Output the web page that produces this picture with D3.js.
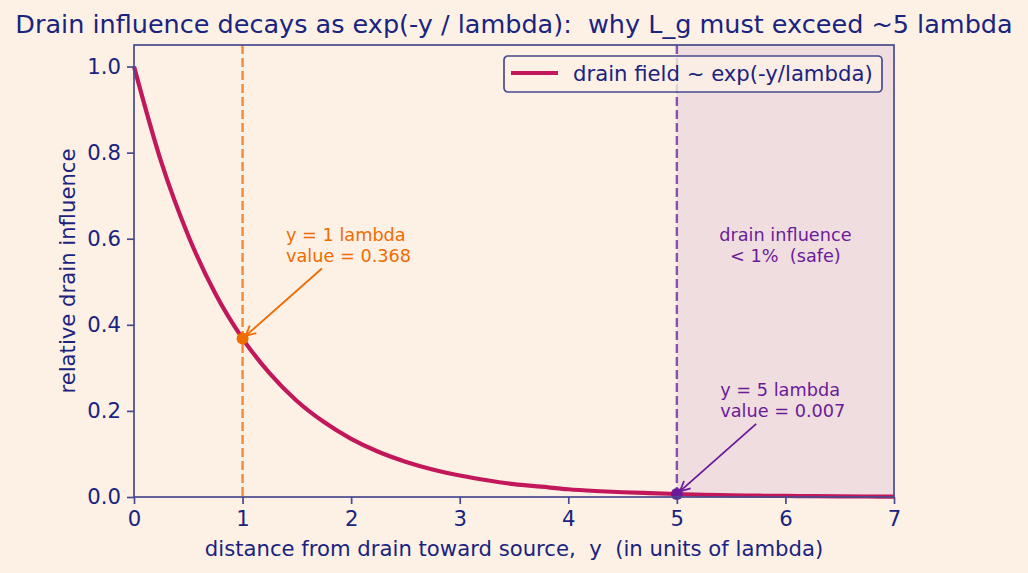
<!DOCTYPE html>
<html>
<head>
<meta charset="utf-8">
<script src="https://cdn.jsdelivr.net/npm/d3@7"></script>
<style>
  html, body { margin: 0; padding: 0; background: #fdf1e6; }
  svg { display: block; font-family: "DejaVu Sans", sans-serif; }
  svg text { white-space: pre; }
</style>
</head>
<body>
<div id="chart"></div>
<script>
// exp(-y/lambda) decay curve
const distance = [0, 0.25, 0.5, 0.75, 1, 1.25, 1.5, 1.75, 2, 2.25, 2.5, 2.75, 3, 3.25, 3.5,
  3.75, 4, 4.25, 4.5, 4.75, 5, 5.25, 5.5, 5.75, 6, 6.25, 6.5, 6.75, 7];
const influence = [1.000, 0.779, 0.607, 0.472, 0.368, 0.287, 0.223, 0.174, 0.135, 0.105, 0.082,
  0.064, 0.050, 0.039, 0.030, 0.024, 0.018, 0.014, 0.011, 0.009, 0.007, 0.005, 0.004, 0.003,
  0.0025, 0.002, 0.0015, 0.0012, 0.0009];
const markX = [1, 5];
const markY = [0.368, 0.007];
const markLabel = [['y = 1 lambda', 'value = 0.368'], ['y = 5 lambda', 'value = 0.007']];
const labelX = [1.4, 5.4];
const labelY = [0.547, 0.186];
const safeFrom = 5, safeTo = 7;
const safeText = ['drain influence', '< 1%  (safe)'];
const xTicks = [0, 1, 2, 3, 4, 5, 6, 7];
const yTicks = [0, 0.2, 0.4, 0.6, 0.8, 1.0];

const W = 1028, H = 573;
const margin = {top: 45, right: 134, bottom: 76, left: 134};
const width = W - margin.left - margin.right;
const height = H - margin.top - margin.bottom;

const navy = '#1a237e', spine = '#474a8f', bg = '#fdf1e6';
const pink = '#c2185b', orange = '#ef6c00', purple = '#6a1b9a';
const markColor = [orange, purple];
const lineColor = ['#f08a34', '#8750b3'];
const fs = 21.2;

const svg = d3.select('#chart').append('svg').attr('width', W).attr('height', H);
svg.append('rect').attr('width', W).attr('height', H).attr('fill', bg);
const g = svg.append('g').attr('transform', `translate(${margin.left},${margin.top})`);

const x = d3.scaleLinear().domain([0, 7]).range([0, width]);
const y = d3.scaleLinear().domain([0, 1.05]).range([height, 0]);

// shaded safe zone
g.append('rect').attr('x', x(safeFrom)).attr('y', 0)
  .attr('width', x(safeTo) - x(safeFrom)).attr('height', height)
  .attr('fill', purple).attr('opacity', 0.09);

// vertical dashed markers
markX.forEach((v, i) => {
  g.append('line').attr('x1', x(v)).attr('x2', x(v)).attr('y1', 0).attr('y2', height)
    .attr('stroke', lineColor[i]).attr('stroke-width', 2.4).attr('stroke-dasharray', '9,4');
});

// curve
const pts = distance.map((d, i) => [d, influence[i]]);
g.append('path').datum(pts)
  .attr('d', d3.line().x(d => x(d[0])).y(d => y(d[1])).curve(d3.curveMonotoneX))
  .attr('fill', 'none').attr('stroke', pink).attr('stroke-width', 4.2);

// dots
g.selectAll('circle.mk').data(markX).enter().append('circle')
  .attr('cx', d => x(d)).attr('cy', (d, i) => y(markY[i])).attr('r', 6)
  .attr('fill', (d, i) => markColor[i]);

// safe zone text
safeText.forEach((t, i) => {
  g.append('text').attr('x', x(6)).attr('y', 196 + i * 21)
    .attr('text-anchor', 'middle').attr('font-size', 17.7).attr('fill', purple).text(t);
});

// annotations with arrows
markX.forEach((v, i) => {
  const tg = g.append('g');
  const lines = markLabel[i];
  lines.forEach((t, j) => {
    tg.append('text').attr('x', x(labelX[i])).attr('y', y(labelY[i]) - (lines.length - 1 - j) * 21)
      .attr('font-size', 17.7).attr('fill', markColor[i]).text(t);
  });
  const bb = tg.node().getBBox();
  const cx = bb.x + bb.width / 2, cy = bb.y + bb.height / 2;
  const tx = x(v), ty = y(markY[i]);
  const dx = tx - cx, dy = ty - cy;
  // start where the line leaves the text box
  const pad = 3;
  const s = Math.min((bb.width / 2 + pad) / Math.abs(dx), (bb.height / 2 + pad) / Math.abs(dy));
  const sx = cx + dx * s, sy = cy + dy * s;
  const len = Math.hypot(tx - sx, ty - sy);
  const ux = (tx - sx) / len, uy = (ty - sy) / len;
  const ex = tx - ux * 4, ey = ty - uy * 4;
  g.append('line').attr('x1', sx).attr('y1', sy).attr('x2', ex).attr('y2', ey)
    .attr('stroke', markColor[i]).attr('stroke-width', 1.8);
  const hl = 10, hw = 5;
  const bx = ex - ux * hl, by = ey - uy * hl;
  g.append('path')
    .attr('d', `M${bx - uy * hw},${by + ux * hw}L${ex},${ey}L${bx + uy * hw},${by - ux * hw}`)
    .attr('fill', 'none').attr('stroke', markColor[i]).attr('stroke-width', 1.8);
});

// axes
const xAxis = g.append('g').attr('transform', `translate(0,${height})`)
  .call(d3.axisBottom(x).tickValues(xTicks).tickFormat(d3.format('d')).tickSize(7).tickPadding(5));
const yAxis = g.append('g')
  .call(d3.axisLeft(y).tickValues(yTicks).tickFormat(d3.format('.1f')).tickSize(7).tickPadding(6));
[xAxis, yAxis].forEach(a => {
  a.select('.domain').remove();
  a.selectAll('line').attr('stroke', spine).attr('stroke-width', 1.7);
  a.selectAll('text').attr('fill', navy).attr('font-size', fs).attr('font-family', '"DejaVu Sans", sans-serif');
});
xAxis.selectAll('text').attr('dy', '0.78em');

// spines
g.append('rect').attr('width', width).attr('height', height)
  .attr('fill', 'none').attr('stroke', spine).attr('stroke-width', 1.7);

// legend
const lg = g.append('g').attr('transform', `translate(${504 - margin.left},${56 - margin.top})`);
lg.append('rect').attr('width', 378).attr('height', 36).attr('rx', 4)
  .attr('fill', bg).attr('fill-opacity', 0.8).attr('stroke', spine).attr('stroke-width', 1.7);
lg.append('line').attr('x1', 7).attr('x2', 54).attr('y1', 17).attr('y2', 17)
  .attr('stroke', pink).attr('stroke-width', 4.2);
lg.append('text').attr('x', 69).attr('y', 24.5).attr('font-size', fs).attr('fill', navy)
  .text('drain field ~ exp(-y/lambda)');

// labels
svg.append('text').attr('x', margin.left + width / 2).attr('y', 556).attr('text-anchor', 'middle')
  .attr('font-size', fs).attr('fill', navy)
  .text('distance from drain toward source,  y  (in units of lambda)');
svg.append('text').attr('transform', `translate(75,${margin.top + height / 2}) rotate(-90)`)
  .attr('text-anchor', 'middle').attr('font-size', fs).attr('fill', navy)
  .text('relative drain influence');
svg.append('text').attr('x', margin.left + width / 2).attr('y', 33).attr('text-anchor', 'middle')
  .attr('font-size', 25.5).attr('fill', navy)
  .text('Drain influence decays as exp(-y / lambda):  why L_g must exceed ~5 lambda');
</script>
</body>
</html>
